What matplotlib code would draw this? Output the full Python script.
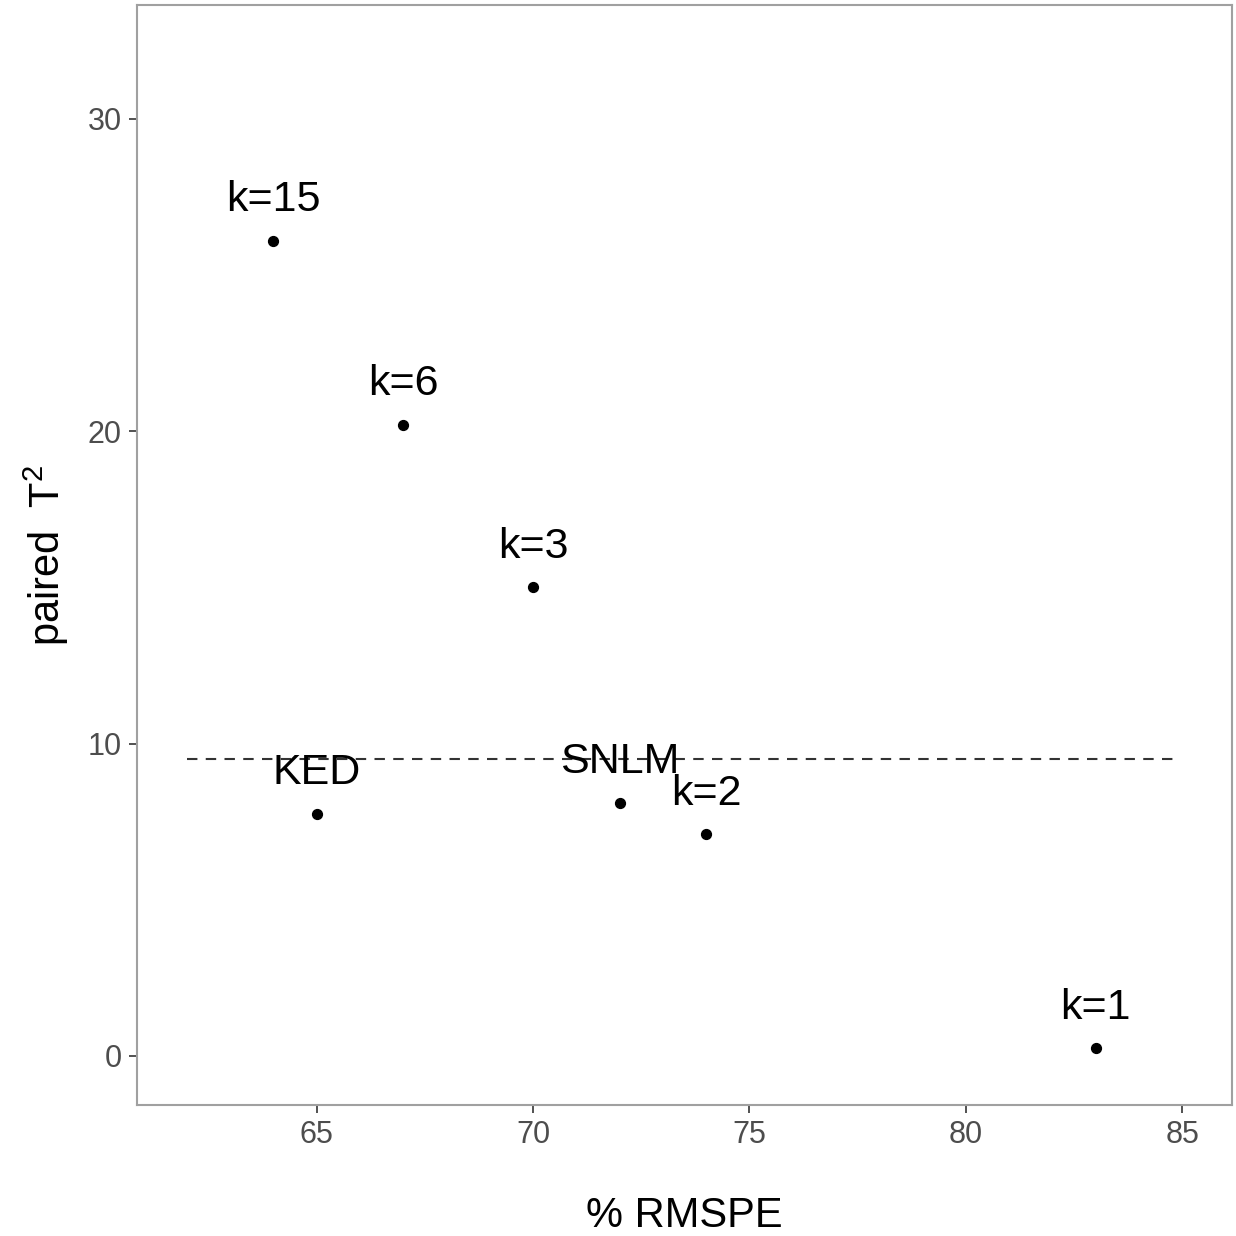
import matplotlib
matplotlib.use("Agg")
import matplotlib.pyplot as plt

plt.rcParams["font.family"] = ["Liberation Sans", "DejaVu Sans"]
plt.rcParams["mathtext.fontset"] = "custom"
plt.rcParams["mathtext.rm"] = "Liberation Sans"
plt.rcParams["mathtext.it"] = "Liberation Sans"

# data
labels = ["k=15", "k=6", "k=3", "KED", "SNLM", "k=2", "k=1"]
rmspe = [64, 67, 70, 65, 72, 74, 83]
t2 = [26.1, 20.2, 15.0, 7.75, 8.1, 7.1, 0.25]

# dashed reference line
ref_y = 9.5
ref_x = [62, 84.85]

fig = plt.figure(figsize=(12.36, 12.36), dpi=100)
ax = fig.add_axes([0.1108, 0.106, 0.886, 0.89])

ax.plot(ref_x, [ref_y, ref_y], ls=(0, (5, 4)), color="#333333", lw=1.5)
ax.scatter(rmspe, t2, s=50, color="black", zorder=3)
for x, y, lab in zip(rmspe, t2, labels):
    ax.text(x, y + 1.3, lab, ha="center", va="center", fontsize=31, color="black")

ax.set_xlim(60.85, 86.15)
ax.set_ylim(-1.57, 33.65)
ax.set_xticks([65, 70, 75, 80, 85])
ax.set_yticks([0, 10, 20, 30])

for sp in ax.spines.values():
    sp.set_color("#a0a0a0")
    sp.set_linewidth(1.5)

ax.tick_params(axis="both", labelsize=22, labelcolor="#4d4d4d", color="#333333",
               length=6, width=1.2, pad=5)

ax.set_xlabel("% RMSPE", fontsize=30, labelpad=33)
ax.set_ylabel(r"paired  T$^{2}$", fontsize=30, labelpad=12)

fig.savefig("out.png", dpi=100)
